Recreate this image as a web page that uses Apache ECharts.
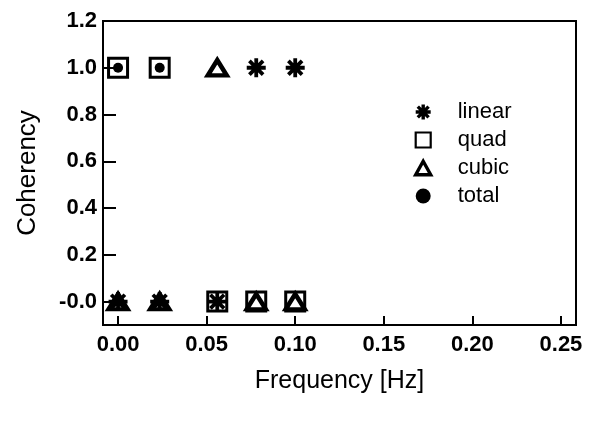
<!DOCTYPE html>
<html>
<head>
<meta charset="utf-8">
<script src="https://cdn.jsdelivr.net/npm/echarts@6/dist/echarts.min.js"></script>
<style>
  html, body { margin: 0; padding: 0; background: #fff; }
  #chart { width: 596px; height: 421px; }
</style>
</head>
<body>
<div id="chart"></div>
<script>
// Coherency of each nonlinear component at the analysed frequencies
const seriesNames = ['linear', 'quad', 'cubic', 'total'];
const linearPts = [[0.0, 0], [0.0235, 0], [0.056, 0], [0.078, 1], [0.100, 1]];
const quadPts   = [[0.0, 1], [0.0235, 1], [0.056, 0], [0.078, 0], [0.100, 0]];
const cubicPts  = [[0.0, 0], [0.0235, 0], [0.056, 1], [0.078, 0], [0.100, 0]];
const totalPts  = [[0.0, 1], [0.0235, 1]];

// Tick positions on both axes
const xTicks = [0, 0.05, 0.10, 0.15, 0.20, 0.25];
const yTicks = [0, 0.2, 0.4, 0.6, 0.8, 1.0, 1.2];

const FONT = '"Liberation Sans", Arial, sans-serif';
const ASTERISK = 'path://M0,-10L0,10M-10,0L10,0M-7.2,-7.2L7.2,7.2M-7.2,7.2L7.2,-7.2';
const TRIANGLE = 'path://M0,-10L10,8L-10,8Z';

const styles = {
  linear: { color: 'rgba(0,0,0,0)', borderColor: '#000', borderWidth: 3.8, opacity: 1 },
  quad:   { color: 'rgba(0,0,0,0)', borderColor: '#000', borderWidth: 3, opacity: 1 },
  cubic:  { color: 'rgba(0,0,0,0)', borderColor: '#000', borderWidth: 4.4, opacity: 1 },
  total:  { color: '#000', borderColor: '#000', borderWidth: 0, opacity: 1 }
};
const legendStyles = {
  linear: { color: 'rgba(0,0,0,0)', borderColor: '#000', borderWidth: 3.4, opacity: 1 },
  quad:   { color: 'rgba(0,0,0,0)', borderColor: '#000', borderWidth: 2.2, opacity: 1 },
  cubic:  { color: 'rgba(0,0,0,0)', borderColor: '#000', borderWidth: 3.4, opacity: 1 },
  total:  { color: '#000', borderColor: '#000', borderWidth: 0, opacity: 1 }
};

const chart = echarts.init(document.getElementById('chart'), null, { renderer: 'canvas' });

const baseSeries = {
  type: 'scatter',
  symbolKeepAspect: true,
  animation: false,
  emphasis: { disabled: true }
};

chart.setOption({
  backgroundColor: '#ffffff',
  animation: false,
  grid: {
    left: 103, right: 20, top: 21, bottom: 96,
    show: true, borderColor: '#000', borderWidth: 2, backgroundColor: 'transparent'
  },
  legend: {
    orient: 'vertical',
    left: 409,
    top: 96,
    itemWidth: 15,
    itemHeight: 15,
    itemGap: 6,
    data: seriesNames.map(n => ({ name: n, itemStyle: legendStyles[n] })),
    textStyle: { fontFamily: FONT, fontSize: 22, color: '#000', padding: [0, 0, 0, 22] },
    selectedMode: false
  },
  xAxis: {
    type: 'value',
    min: -0.0085,
    max: 0.2585,
    name: 'Frequency [Hz]',
    nameLocation: 'middle',
    nameGap: 44,
    nameTextStyle: { fontFamily: FONT, fontSize: 25, color: '#000' },
    axisLine: { show: true, onZero: false, lineStyle: { color: '#000', width: 2 } },
    axisTick: { show: true, inside: true, length: 9, lineStyle: { color: '#000', width: 2 }, customValues: xTicks },
    axisLabel: {
      customValues: xTicks,
      margin: 9,
      fontFamily: FONT, fontSize: 22, fontWeight: 'bold', color: '#000',
      formatter: v => v.toFixed(2)
    },
    splitLine: { show: false }
  },
  yAxis: {
    type: 'value',
    min: -0.1,
    max: 1.2,
    name: 'Coherency',
    nameLocation: 'middle',
    nameGap: 62,
    nameTextStyle: { fontFamily: FONT, fontSize: 26, color: '#000' },
    axisLine: { show: true, onZero: false, lineStyle: { color: '#000', width: 2 } },
    axisTick: { show: true, inside: true, length: 13, lineStyle: { color: '#000', width: 2 }, customValues: yTicks },
    axisLabel: {
      customValues: yTicks,
      margin: 6,
      fontFamily: FONT, fontSize: 22, fontWeight: 'bold', color: '#000',
      formatter: v => (v === 0 ? '-0.0' : v.toFixed(1))
    },
    splitLine: { show: false }
  },
  series: [
    Object.assign({}, baseSeries, {
      name: 'linear', data: linearPts, symbol: ASTERISK, symbolSize: 19, itemStyle: styles.linear
    }),
    Object.assign({}, baseSeries, {
      name: 'quad', data: quadPts, symbol: 'rect', symbolSize: 19, itemStyle: styles.quad
    }),
    Object.assign({}, baseSeries, {
      name: 'cubic', data: cubicPts, symbol: TRIANGLE, symbolSize: [19, 17], itemStyle: styles.cubic
    }),
    Object.assign({}, baseSeries, {
      name: 'total', data: totalPts, symbol: 'circle', symbolSize: 10, itemStyle: styles.total
    })
  ]
});
</script>
</body>
</html>
